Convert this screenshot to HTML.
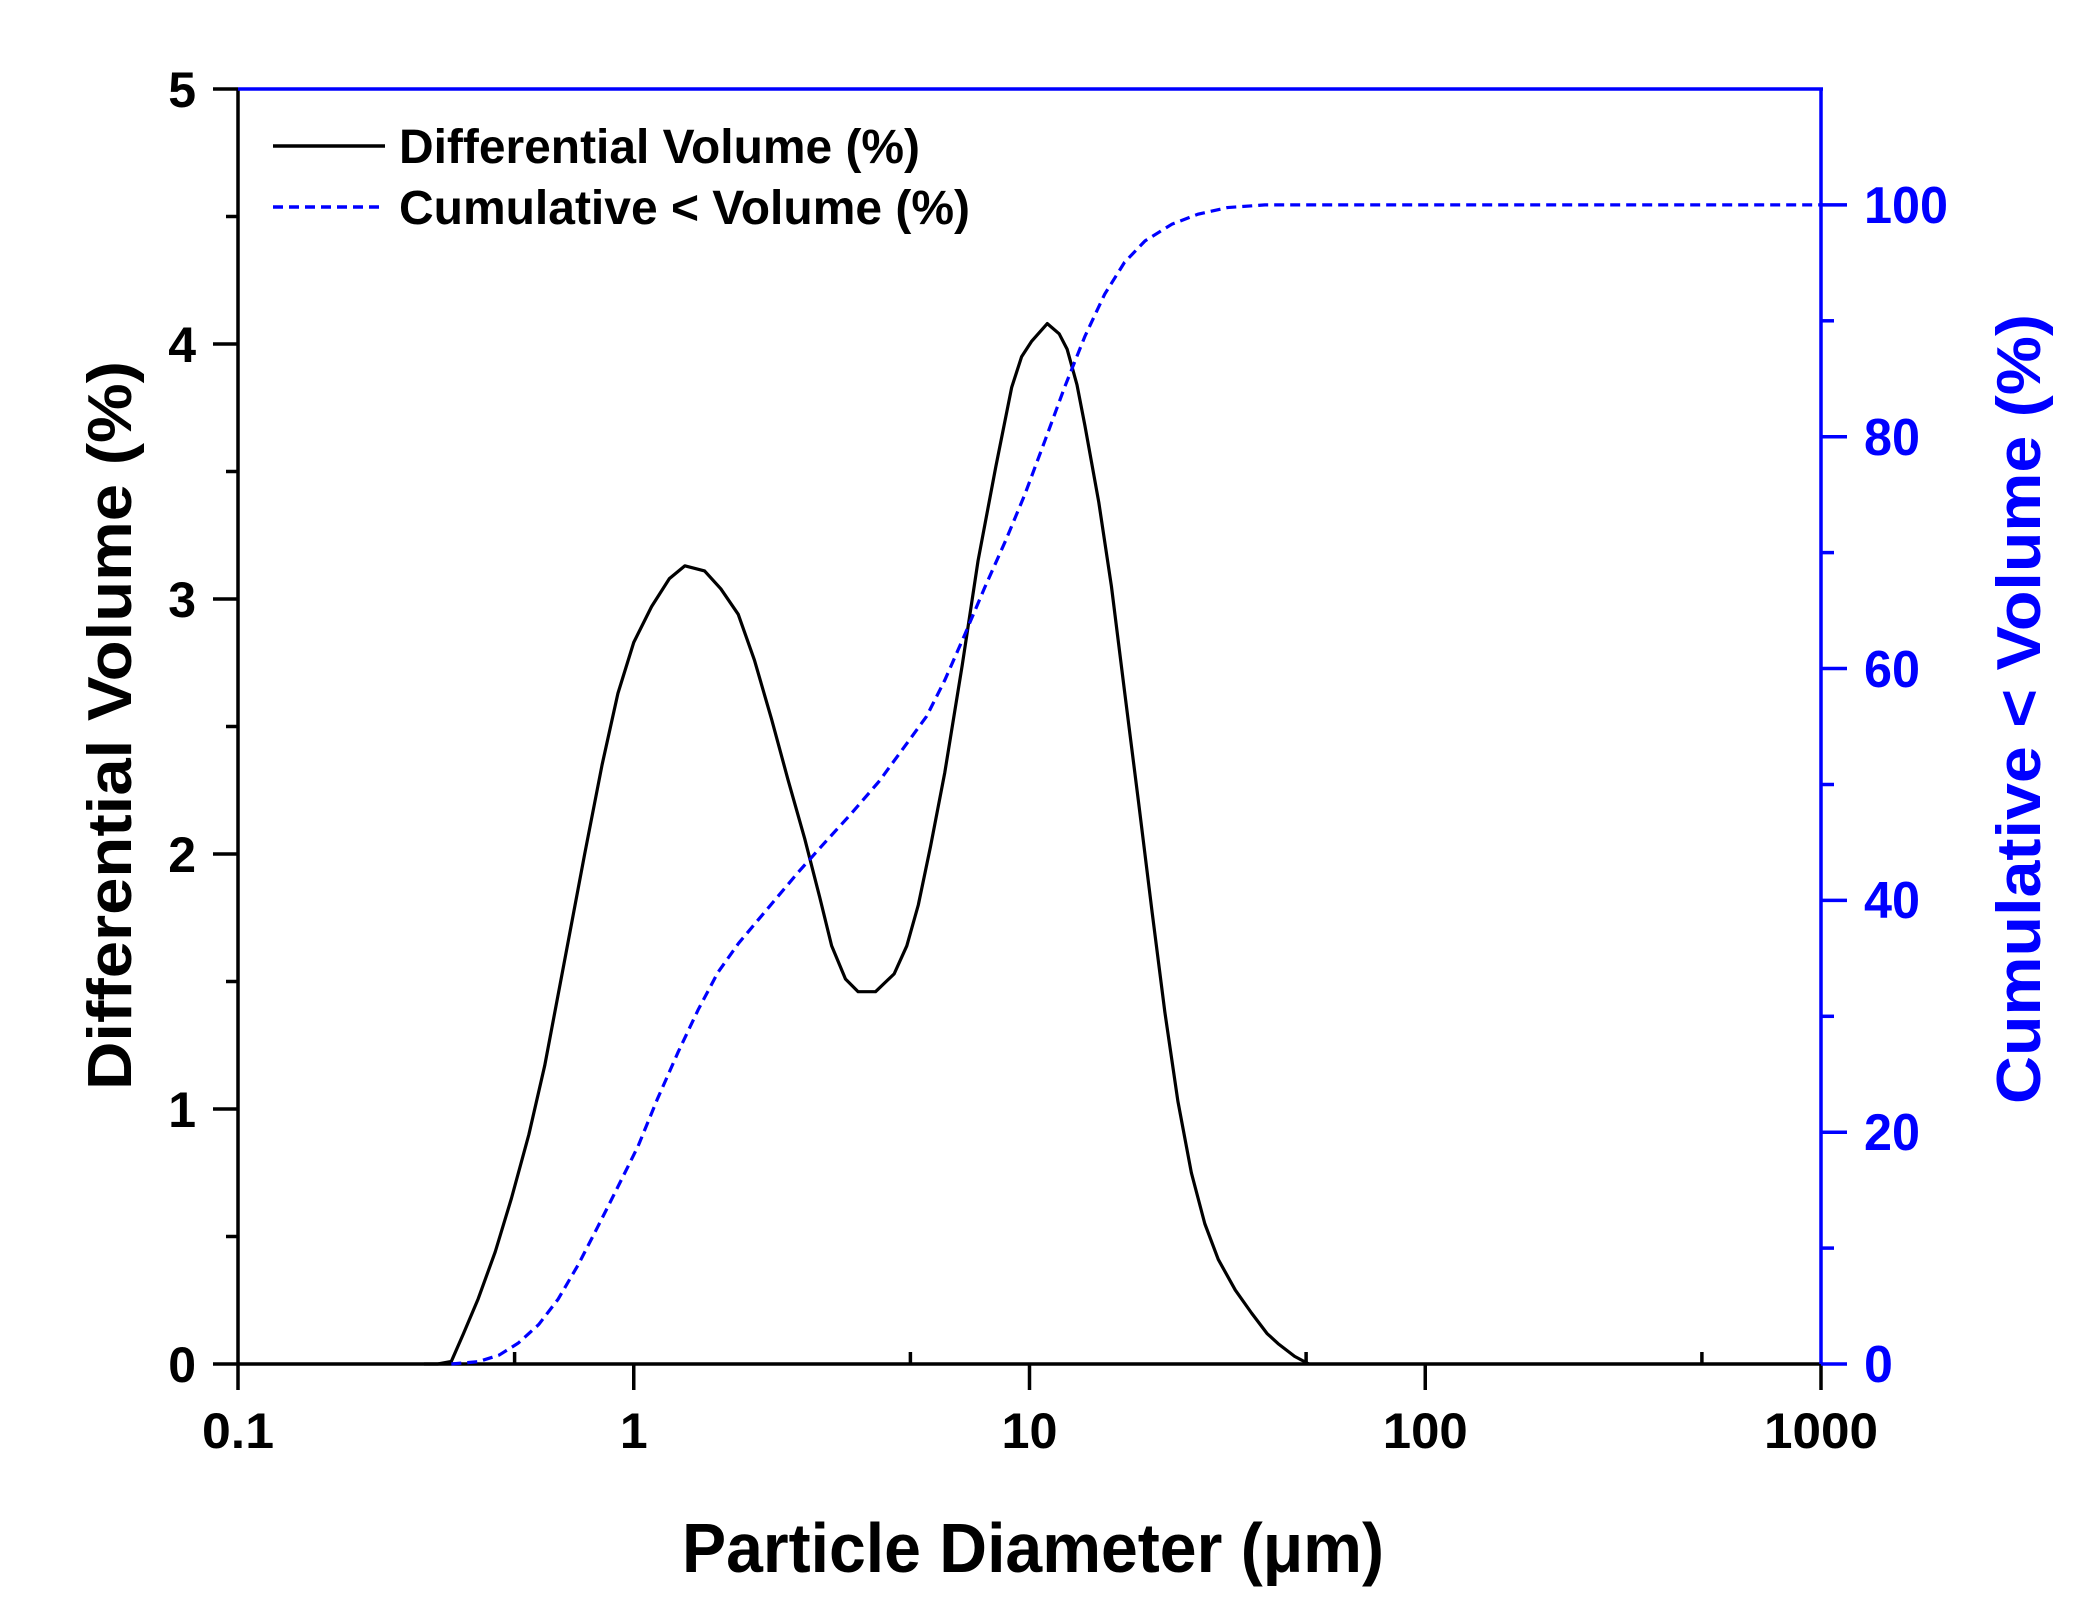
<!DOCTYPE html>
<html><head><meta charset="utf-8"><style>
html,body{margin:0;padding:0;background:#fff;}
svg{display:block;}
text{font-family:"Liberation Sans",Arial,sans-serif;font-weight:bold;}
</style></head><body>
<svg width="2091" height="1617" viewBox="0 0 2091 1617" xmlns="http://www.w3.org/2000/svg">
<rect width="2091" height="1617" fill="#fff"/>
<g stroke="#000" stroke-width="3.5">
<line x1="213" y1="1364" x2="238" y2="1364"/>
<line x1="213" y1="1109" x2="238" y2="1109"/>
<line x1="213" y1="854" x2="238" y2="854"/>
<line x1="213" y1="599" x2="238" y2="599"/>
<line x1="213" y1="344" x2="238" y2="344"/>
<line x1="213" y1="89" x2="238" y2="89"/>
<line x1="226" y1="1236.5" x2="238" y2="1236.5"/>
<line x1="226" y1="981.5" x2="238" y2="981.5"/>
<line x1="226" y1="726.5" x2="238" y2="726.5"/>
<line x1="226" y1="471.5" x2="238" y2="471.5"/>
<line x1="226" y1="216.5" x2="238" y2="216.5"/>
<line x1="238" y1="1364" x2="238" y2="1390"/>
<line x1="633.75" y1="1364" x2="633.75" y2="1390"/>
<line x1="1029.5" y1="1364" x2="1029.5" y2="1390"/>
<line x1="1425.25" y1="1364" x2="1425.25" y2="1390"/>
<line x1="1821" y1="1364" x2="1821" y2="1390"/>
<line x1="514.6" y1="1364" x2="514.6" y2="1352"/>
<line x1="910.4" y1="1364" x2="910.4" y2="1352"/>
<line x1="1306.1" y1="1364" x2="1306.1" y2="1352"/>
<line x1="1701.9" y1="1364" x2="1701.9" y2="1352"/>
<line x1="238" y1="89" x2="238" y2="1364"/>
<line x1="238" y1="1364" x2="1821" y2="1364"/>
</g>
<g stroke="#0000ff" stroke-width="3.5">
<line x1="238" y1="89" x2="1823" y2="89"/>
<line x1="1821" y1="89" x2="1821" y2="1364"/>
<line x1="1821" y1="1364" x2="1847" y2="1364"/>
<line x1="1821" y1="1132.2" x2="1847" y2="1132.2"/>
<line x1="1821" y1="900.4" x2="1847" y2="900.4"/>
<line x1="1821" y1="668.5" x2="1847" y2="668.5"/>
<line x1="1821" y1="436.7" x2="1847" y2="436.7"/>
<line x1="1821" y1="204.9" x2="1847" y2="204.9"/>
<line x1="1821" y1="1248.1" x2="1834" y2="1248.1"/>
<line x1="1821" y1="1016.3" x2="1834" y2="1016.3"/>
<line x1="1821" y1="784.5" x2="1834" y2="784.5"/>
<line x1="1821" y1="552.6" x2="1834" y2="552.6"/>
<line x1="1821" y1="320.8" x2="1834" y2="320.8"/>
</g>
<g transform="translate(633.75,1364) scale(395.75,-255)" fill="none">
<polyline vector-effect="non-scaling-stroke" stroke="#000" stroke-width="3.2" stroke-linejoin="round" points="-0.53,0 -0.495,0 -0.461,0.01 -0.43,0.12 -0.393,0.256 -0.35,0.44 -0.309,0.65 -0.265,0.9 -0.225,1.17 -0.175,1.58 -0.124,2.0 -0.08,2.35 -0.04,2.63 0.0,2.83 0.045,2.97 0.09,3.08 0.129,3.13 0.179,3.11 0.22,3.04 0.264,2.94 0.305,2.76 0.348,2.53 0.39,2.29 0.432,2.06 0.47,1.83 0.5,1.64 0.535,1.51 0.567,1.46 0.611,1.46 0.658,1.53 0.69,1.64 0.719,1.80 0.75,2.03 0.786,2.32 0.83,2.74 0.87,3.15 0.915,3.52 0.955,3.83 0.98,3.95 1.005,4.01 1.045,4.08 1.075,4.04 1.095,3.98 1.12,3.84 1.14,3.68 1.175,3.38 1.207,3.05 1.24,2.64 1.275,2.21 1.31,1.77 1.342,1.38 1.375,1.03 1.409,0.75 1.443,0.55 1.477,0.41 1.52,0.29 1.561,0.20 1.6,0.12 1.628,0.08 1.67,0.03 1.706,0"/>
<polyline vector-effect="non-scaling-stroke" stroke="#0000ff" stroke-width="3.2" stroke-dasharray="10,6" points="-0.461,0 -0.393,0.0091 -0.34,0.035 -0.292,0.0818 -0.24,0.155 -0.191,0.2545 -0.14,0.39 -0.09,0.5409 -0.04,0.695 0.011,0.8545 0.06,1.04 0.112,1.2227 0.163,1.39 0.213,1.5364 0.265,1.65 0.314,1.7409 0.365,1.835 0.415,1.9273 0.48,2.04 0.55,2.1591 0.62,2.285 0.685,2.4227 0.74,2.54 0.786,2.6818 0.835,2.855 0.887,3.0455 0.94,3.23 0.988,3.4091 1.04,3.625 1.089,3.8318 1.14,4.03 1.19,4.1955 1.24,4.32 1.292,4.4045 1.36,4.47 1.426,4.5091 1.5,4.535 1.595,4.5455 3,4.5455"/>
</g>
<line x1="273" y1="146" x2="385" y2="146" stroke="#000" stroke-width="3.5"/>
<line x1="273" y1="207" x2="385" y2="207" stroke="#0000ff" stroke-width="3.5" stroke-dasharray="10,6"/>
<text x="399" y="163" font-size="48" textLength="521" lengthAdjust="spacingAndGlyphs">Differential Volume (%)</text>
<text x="399" y="224" font-size="48" textLength="571" lengthAdjust="spacingAndGlyphs">Cumulative &lt; Volume (%)</text>
<g font-size="50" text-anchor="end" fill="#000">
<text x="196" y="1382">0</text>
<text x="196" y="1127">1</text>
<text x="196" y="872">2</text>
<text x="196" y="617">3</text>
<text x="196" y="362">4</text>
<text x="196" y="107">5</text>
</g>
<g font-size="50" text-anchor="middle" fill="#000">
<text x="238" y="1448" textLength="72" lengthAdjust="spacingAndGlyphs">0.1</text>
<text x="633.75" y="1448">1</text>
<text x="1029.5" y="1448" textLength="56" lengthAdjust="spacingAndGlyphs">10</text>
<text x="1425.25" y="1448" textLength="85" lengthAdjust="spacingAndGlyphs">100</text>
<text x="1821" y="1448" textLength="114" lengthAdjust="spacingAndGlyphs">1000</text>
</g>
<g font-size="52" fill="#0000ff">
<text x="1864" y="1382">0</text>
<text x="1864" y="1150" textLength="56" lengthAdjust="spacingAndGlyphs">20</text>
<text x="1864" y="918" textLength="56" lengthAdjust="spacingAndGlyphs">40</text>
<text x="1864" y="687" textLength="56" lengthAdjust="spacingAndGlyphs">60</text>
<text x="1864" y="455" textLength="56" lengthAdjust="spacingAndGlyphs">80</text>
<text x="1864" y="223" textLength="84" lengthAdjust="spacingAndGlyphs">100</text>
</g>
<text x="682" y="1572" font-size="70" textLength="702" lengthAdjust="spacingAndGlyphs">Particle Diameter (μm)</text>
<text transform="translate(131,1090) rotate(-90)" x="0" y="0" font-size="62" textLength="729" lengthAdjust="spacingAndGlyphs">Differential Volume (%)</text>
<text transform="translate(2040,1104) rotate(-90)" x="0" y="0" font-size="62" fill="#0000ff" textLength="790" lengthAdjust="spacingAndGlyphs">Cumulative &lt; Volume (%)</text>
</svg>
</body></html>
